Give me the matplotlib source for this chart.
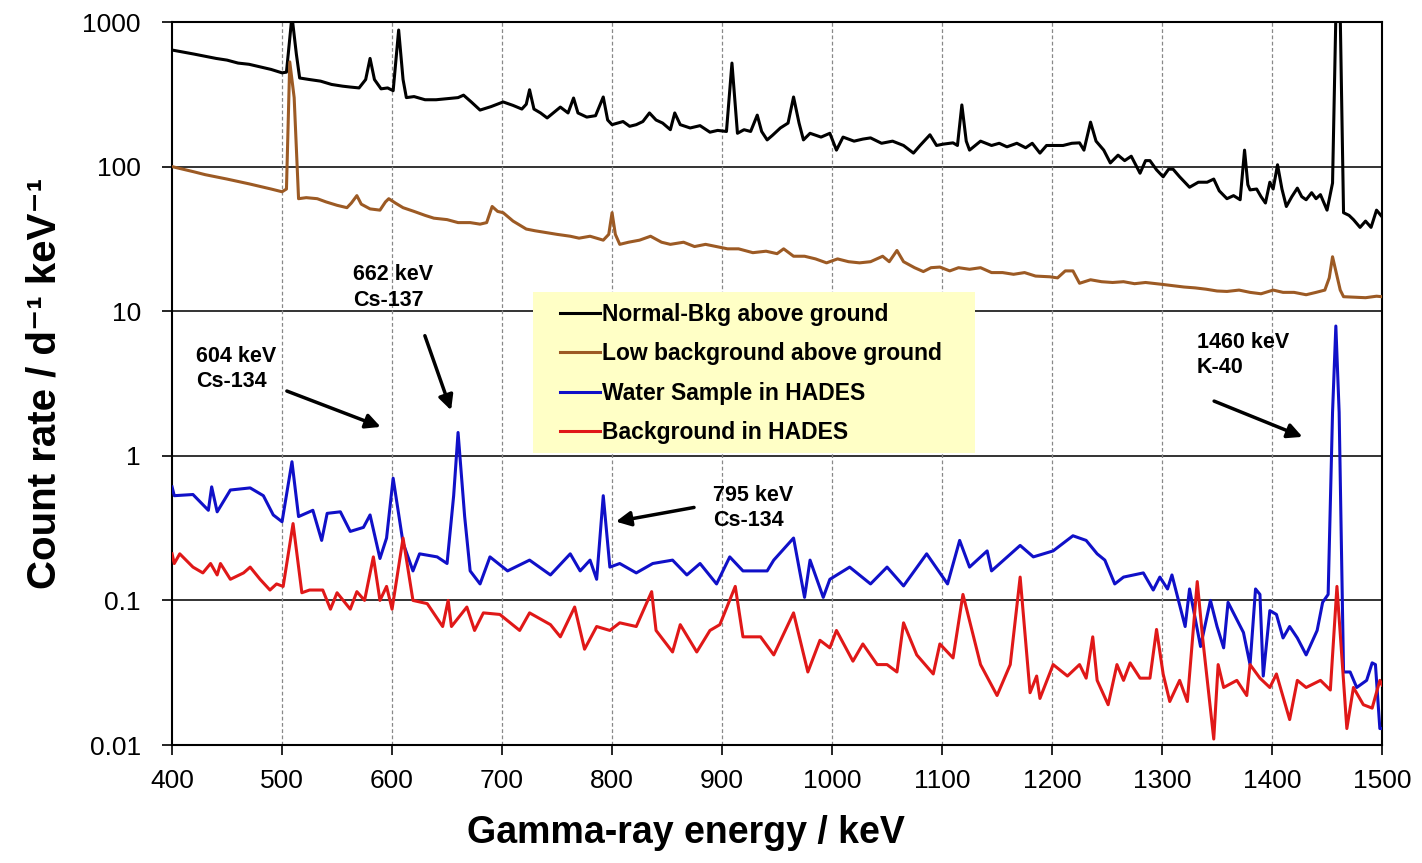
import numpy as np
import matplotlib
matplotlib.use("Agg")
from matplotlib import pyplot as plt
from matplotlib.patches import Rectangle

plt.rcParams['font.family'] = ['Liberation Sans', 'DejaVu Sans']

# Normal background, above ground (black)
normal_e = [400, 410, 420, 430, 440, 450, 460, 470, 480, 490, 500, 504, 509, 513, 516, 525, 535, 545, 555, 562,
            570, 576, 580, 584, 590, 596, 601, 606, 610, 613, 620, 630, 640, 650, 660, 665, 672, 680, 690, 701,
            710, 718, 722, 725, 729, 735, 741, 748, 753, 760, 765, 769, 777, 785, 792, 796, 800, 810, 816, 822,
            828, 834, 840, 846, 853, 857, 862, 871, 880, 889, 896, 904, 909, 914, 920, 926, 932, 936, 941, 946,
            953, 960, 965, 970, 974, 980, 990, 998, 1004, 1010, 1020, 1028, 1035, 1045, 1055, 1065, 1074, 1080, 1089, 1095,
            1101, 1110, 1114, 1118, 1122, 1125, 1135, 1145, 1152, 1159, 1168, 1176, 1182, 1189, 1195, 1201, 1210, 1218, 1225, 1229,
            1235, 1240, 1247, 1253, 1260, 1266, 1272, 1280, 1285, 1289, 1295, 1301, 1306, 1310, 1316, 1325, 1333, 1341, 1347, 1352,
            1359, 1365, 1371, 1375, 1378, 1380, 1386, 1390, 1394, 1398, 1401, 1405, 1409, 1413, 1418, 1423, 1427, 1431, 1436, 1440,
            1444, 1450, 1455, 1458, 1462, 1465, 1470, 1474, 1480, 1485, 1490, 1495, 1500]
normal_rate = [640, 620, 600, 580, 560, 545, 520, 510, 490, 470, 445, 450, 1100, 600, 410, 400, 390, 370, 360, 355,
               350, 400, 560, 400, 345, 350, 335, 880, 400, 300, 305, 290, 290, 295, 300, 312, 280, 246, 260, 280,
               265, 250, 270, 340, 250, 235, 217, 240, 258, 235, 298, 235, 220, 225, 303, 210, 195, 205, 190, 195,
               205, 235, 210, 200, 180, 235, 195, 185, 192, 173, 178, 175, 520, 170, 180, 175, 227, 175, 153, 165,
               185, 200, 303, 200, 153, 170, 160, 170, 130, 160, 150, 155, 158, 145, 150, 140, 124, 140, 166, 140,
               143, 146, 140, 267, 150, 130, 150, 140, 145, 137, 145, 135, 145, 124, 140, 140, 140, 145, 146, 130,
               203, 150, 130, 106, 120, 110, 118, 90, 110, 110, 95, 85, 96, 96, 85, 72, 78, 78, 82, 68,
               60, 63, 59, 130, 75, 69, 70, 62, 56, 78, 70, 103, 70, 53, 62, 71, 62, 59, 66, 60,
               64, 50, 77, 1100, 1100, 48, 46, 43, 38, 42, 38, 50, 45]

# Low background, above ground (brown)
lowbkg_e = [400, 410, 420, 430, 440, 450, 460, 470, 480, 490, 500, 504, 507, 511, 515, 522, 532, 540, 550, 559,
            563, 568, 572, 580, 589, 594, 597, 603, 610, 620, 630, 638, 650, 660, 671, 680, 686, 691, 696, 701,
            710, 722, 730, 740, 750, 762, 770, 780, 792, 797, 800, 803, 807, 815, 825, 835, 845, 853, 865, 875,
            885, 895, 905, 915, 928, 940, 950, 956, 965, 975, 985, 995, 1005, 1015, 1025, 1035, 1046, 1052, 1059, 1065,
            1075, 1083, 1090, 1098, 1107, 1115, 1125, 1135, 1145, 1155, 1165, 1175, 1185, 1198, 1205, 1212, 1219, 1225, 1235, 1245,
            1255, 1265, 1275, 1285, 1298, 1310, 1320, 1330, 1340, 1350, 1359, 1370, 1380, 1390, 1401, 1410, 1420, 1431, 1440, 1448,
            1452, 1455, 1458, 1462, 1465, 1475, 1485, 1495, 1500]
lowbkg_rate = [100, 96, 92, 88, 85, 82, 79, 76, 73, 70, 67, 70, 530, 300, 60, 61, 60, 57, 54, 52,
               56, 63, 55, 51, 50, 57, 60, 56, 52, 49, 46, 44, 43, 41, 41, 40, 41, 53, 49, 48,
               42, 37, 36, 35, 34, 33, 32, 33, 31, 34, 48, 34, 29, 30, 31, 33, 30, 29, 30, 28,
               29, 28, 27, 27, 25.4, 26, 25, 27, 24, 24, 23, 21.6, 23, 22, 21.6, 22, 24, 22, 26.3, 22,
               20, 18.8, 20, 20.2, 19, 20, 19.5, 20, 18.5, 18.5, 18, 18.5, 17.5, 17.3, 17, 19, 19, 15.6, 16.5, 16,
               15.8, 16, 15.5, 15.8, 15.4, 15, 14.7, 14.5, 14.2, 13.8, 13.7, 14, 13.5, 13.2, 14, 13.5, 13.5, 13, 13.5, 14,
               17, 23.8, 19, 14, 12.6, 12.5, 12.4, 12.7, 12.6]

# Water sample in HADES (blue)
water_e = [400, 402, 419, 433, 436, 441, 453, 471, 483, 492, 500, 509, 515, 528, 536, 541, 553, 562, 574, 580,
           589, 595, 601, 610, 619, 625, 641, 650, 656, 660, 666, 671, 680, 689, 705, 725, 744, 762, 771, 780,
           786, 792, 798, 807, 822, 837, 855, 868, 880, 895, 907, 919, 941, 947, 965, 975, 980, 992, 998, 1016,
           1035, 1050, 1065, 1086, 1105, 1116, 1125, 1141, 1145, 1171, 1183, 1201, 1219, 1231, 1241, 1248, 1257, 1265, 1283, 1292,
           1298, 1305, 1309, 1321, 1325, 1335, 1344, 1350, 1356, 1360, 1374, 1380, 1385, 1389, 1392, 1398, 1404, 1410, 1416, 1423,
           1431, 1441, 1446, 1451, 1455, 1458, 1461, 1465, 1471, 1477, 1486, 1491, 1494, 1498, 1500]
water_rate = [0.61, 0.53, 0.54, 0.42, 0.61, 0.41, 0.58, 0.60, 0.53, 0.39, 0.35, 0.91, 0.38, 0.42, 0.26, 0.40, 0.41, 0.30, 0.32, 0.39,
              0.195, 0.27, 0.70, 0.25, 0.16, 0.21, 0.20, 0.18, 0.53, 1.45, 0.38, 0.16, 0.13, 0.20, 0.16, 0.19, 0.15, 0.21, 0.16, 0.19,
              0.14, 0.53, 0.17, 0.18, 0.155, 0.18, 0.19, 0.15, 0.18, 0.13, 0.20, 0.16, 0.16, 0.19, 0.27, 0.105, 0.19, 0.105, 0.14, 0.17,
              0.13, 0.17, 0.126, 0.21, 0.13, 0.26, 0.17, 0.22, 0.16, 0.24, 0.20, 0.22, 0.28, 0.26, 0.21, 0.19, 0.13, 0.145, 0.155, 0.118,
              0.145, 0.12, 0.15, 0.066, 0.12, 0.048, 0.10, 0.066, 0.047, 0.097, 0.06, 0.036, 0.12, 0.11, 0.030, 0.085, 0.08, 0.055, 0.066, 0.055,
              0.042, 0.062, 0.097, 0.11, 2.0, 7.9, 2.0, 0.032, 0.032, 0.025, 0.028, 0.037, 0.036, 0.013, 0.013]

# Background in HADES (red)
hades_e = [400, 402, 407, 419, 428, 435, 441, 444, 453, 465, 471, 480, 489, 495, 501, 510, 518, 525, 537, 544,
           550, 562, 568, 575, 583, 589, 595, 600, 610, 619, 632, 646, 651, 654, 668, 675, 683, 698, 716, 725,
           744, 753, 766, 775, 786, 798, 807, 822, 836, 840, 855, 862, 877, 889, 898, 912, 919, 935, 947, 965,
           978, 989, 998, 1004, 1019, 1028, 1041, 1050, 1059, 1065, 1077, 1092, 1098, 1110, 1119, 1135, 1150, 1162, 1171, 1180,
           1186, 1189, 1201, 1214, 1225, 1231, 1237, 1241, 1251, 1259, 1265, 1271, 1280, 1289, 1295, 1301, 1307, 1316, 1323, 1332,
           1337, 1347, 1351, 1356, 1368, 1377, 1380, 1389, 1398, 1404, 1416, 1423, 1431, 1444, 1453, 1459, 1468, 1474, 1483, 1491,
           1498, 1500]
hades_rate = [0.21, 0.18, 0.21, 0.17, 0.155, 0.18, 0.15, 0.18, 0.14, 0.155, 0.17, 0.14, 0.118, 0.13, 0.125, 0.34, 0.113, 0.118, 0.118, 0.087,
              0.113, 0.087, 0.115, 0.10, 0.20, 0.10, 0.125, 0.087, 0.27, 0.10, 0.095, 0.066, 0.10, 0.066, 0.09, 0.062, 0.082, 0.08, 0.062, 0.082,
              0.068, 0.056, 0.09, 0.046, 0.066, 0.062, 0.07, 0.066, 0.115, 0.062, 0.044, 0.068, 0.044, 0.062, 0.068, 0.125, 0.056, 0.056, 0.042, 0.082,
              0.032, 0.053, 0.047, 0.062, 0.038, 0.05, 0.036, 0.036, 0.032, 0.07, 0.042, 0.031, 0.05, 0.04, 0.11, 0.036, 0.022, 0.036, 0.145, 0.023,
              0.03, 0.021, 0.036, 0.03, 0.036, 0.029, 0.056, 0.028, 0.019, 0.036, 0.028, 0.037, 0.029, 0.029, 0.063, 0.031, 0.02, 0.028, 0.02, 0.135,
              0.054, 0.011, 0.036, 0.025, 0.028, 0.022, 0.036, 0.029, 0.025, 0.031, 0.015, 0.028, 0.025, 0.028, 0.024, 0.125, 0.013, 0.025, 0.019, 0.018,
              0.028, 0.026]

x_ticks = [400, 500, 600, 700, 800, 900, 1000, 1100, 1200, 1300, 1400, 1500]
y_ticks = [0.01, 0.1, 1, 10, 100, 1000]
y_tick_labels = ['0.01', '0.1', '1', '10', '100', '1000']

fig = plt.figure(figsize=(14.22, 8.63), dpi=100)
ax = fig.add_axes([0.121, 0.1367, 0.8509, 0.8378])

ax.plot(normal_e, normal_rate, color='#000000', lw=2.2, label='Normal-Bkg above ground', zorder=3)
ax.plot(lowbkg_e, lowbkg_rate, color='#9C5A24', lw=2.2, label='Low background above ground', zorder=3)
ax.plot(water_e, water_rate, color='#1010C8', lw=2.2, label='Water Sample in HADES', zorder=3)
ax.plot(hades_e, hades_rate, color='#E01818', lw=2.2, label='Background in HADES', zorder=3)

ax.set_yscale('log')
ax.set_xlim(400, 1500)
ax.set_ylim(0.01, 1000)
ax.set_xticks(x_ticks)
ax.set_yticks(y_ticks)
ax.set_yticklabels(y_tick_labels)
ax.minorticks_off()
ax.tick_params(axis='both', labelsize=19, length=7.5, width=1.2, direction='out')
ax.tick_params(axis='x', pad=10)
ax.tick_params(axis='y', pad=15)

# grid: solid horizontal at decades, dashed vertical every 100 keV
for yv in y_ticks[1:-1]:
    ax.axhline(yv, color='#333333', lw=1.4, zorder=0.5)
for xv in x_ticks[1:-1]:
    ax.axvline(xv, color='#888888', lw=0.9, ls=(0, (3, 2)), zorder=0.5)

for s in ax.spines.values():
    s.set_linewidth(1.5)

ax.set_xlabel('Gamma-ray energy / keV', fontsize=27, fontweight='bold')
ax.xaxis.set_label_coords(0.4244, -0.0968)
ax.set_ylabel('Count rate / d\u207b\u00b9 keV\u207b\u00b9', fontsize=29, fontweight='bold')
ax.yaxis.set_label_coords(-0.09, 0.5)

# yellow legend box
ax.add_patch(Rectangle((0.2983, 0.4039), 0.3653, 0.2227, transform=ax.transAxes,
                       facecolor='#FFFFC6', edgecolor='none', zorder=1.5))
leg = ax.legend(loc='upper left', bbox_to_anchor=(0.3207, 0.612), frameon=False,
                prop={'weight': 'bold', 'size': 16.5}, handlelength=1.74, handletextpad=0.1,
                labelspacing=0.72, borderpad=0, borderaxespad=0)

arrow = dict(arrowstyle='-|>', color='black', lw=2.5, mutation_scale=22)
ax.annotate('662 keV\nCs-137', xy=(654.5, 1.98), xytext=(564.5, 14.5), fontsize=15.5, fontweight='bold',
            va='center', ha='left', linespacing=1.3)
ax.annotate('', xy=(654.5, 1.98), xytext=(629, 7.06), arrowprops=arrow)
ax.annotate('604 keV\nCs-134', xy=(592, 1.56), xytext=(421.8, 3.98), fontsize=15.5, fontweight='bold',
            va='center', ha='left', linespacing=1.3)
ax.annotate('', xy=(592, 1.56), xytext=(502, 2.85), arrowprops=arrow)
ax.annotate('795 keV\nCs-134', xy=(801, 0.348), xytext=(891.8, 0.436), fontsize=15.5, fontweight='bold',
            va='center', ha='left', linespacing=1.3)
ax.annotate('', xy=(801, 0.348), xytext=(877, 0.443), arrowprops=arrow)
ax.annotate('1460 keV\nK-40', xy=(1430, 1.33), xytext=(1331.8, 4.98), fontsize=15.5, fontweight='bold',
            va='center', ha='left', linespacing=1.3)
ax.annotate('', xy=(1430, 1.33), xytext=(1345, 2.43), arrowprops=arrow)

fig.savefig('out.png', dpi=100)
